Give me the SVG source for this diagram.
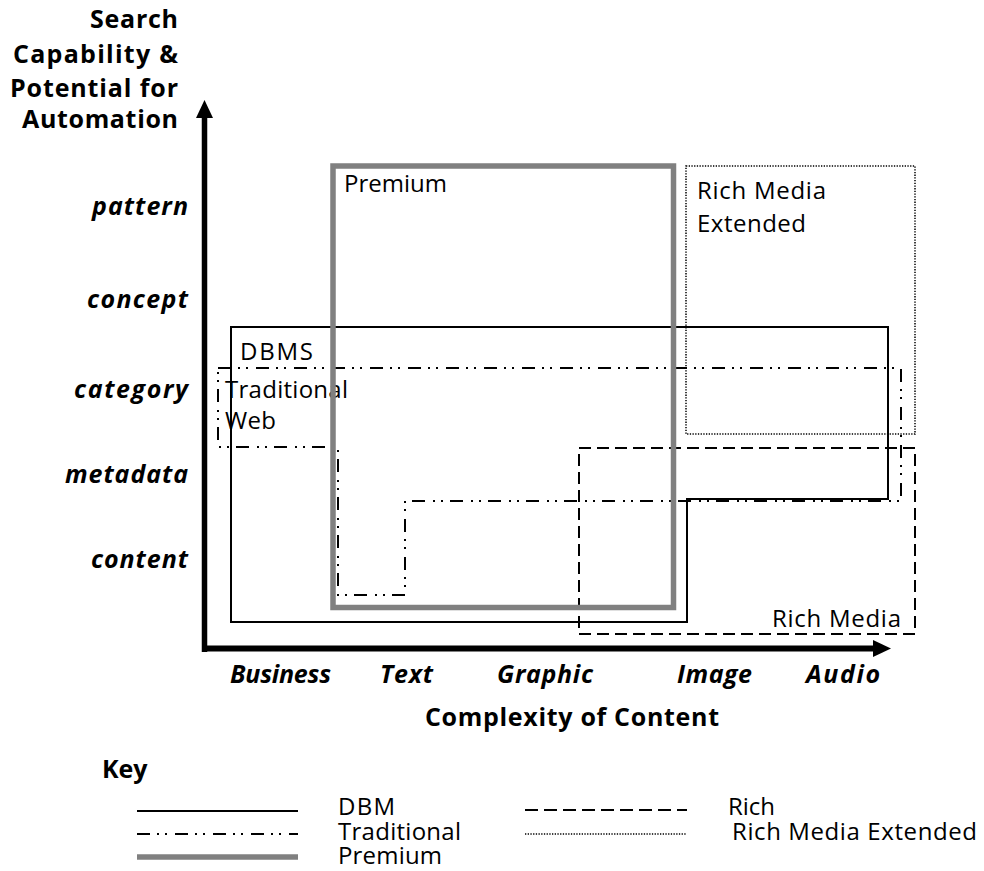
<svg xmlns="http://www.w3.org/2000/svg" width="984" height="871" viewBox="0 0 984 871">
<style>
text{font-family:"Open Sans","Noto Sans","DejaVu Sans",sans-serif;fill:#000;font-size:24px}
.b{font-weight:bold;font-size:25px}
.bi{font-weight:bold;font-style:italic;font-size:25px}
.e{text-anchor:end}
.solid{fill:none;stroke:#000;stroke-width:2}
.trad{fill:none;stroke:#000;stroke-width:2;stroke-dasharray:13 7 2 6 2 8}
.prem{fill:none;stroke:#808080;stroke-width:5.5}
.dash{fill:none;stroke:#000;stroke-width:2;stroke-dasharray:12 6}
.dot{fill:none;stroke:#000;stroke-width:1.5;stroke-dasharray:1.3 1.4}
</style>
<rect width="984" height="871" fill="#fff"/>
<g id="title">
<text class="b e" x="178" y="28" textLength="88" lengthAdjust="spacing">Search</text>
<text class="b e" x="178" y="63" textLength="165" lengthAdjust="spacing">Capability &amp;</text>
<text class="b e" x="178" y="97" textLength="168" lengthAdjust="spacing">Potential for</text>
<text class="b e" x="178" y="128" textLength="156" lengthAdjust="spacing">Automation</text>
</g>
<g id="y-labels">
<text class="bi e" x="188" y="215" textLength="96" lengthAdjust="spacing">pattern</text>
<text class="bi e" x="188" y="308" textLength="101" lengthAdjust="spacing">concept</text>
<text class="bi e" x="188" y="398" textLength="114" lengthAdjust="spacing">category</text>
<text class="bi e" x="188" y="483" textLength="123" lengthAdjust="spacing">metadata</text>
<text class="bi e" x="188" y="568" textLength="97" lengthAdjust="spacing">content</text>
</g>
<g id="x-labels">
<text class="bi" x="230" y="683" textLength="101" lengthAdjust="spacing">Business</text>
<text class="bi" x="380" y="683" textLength="53" lengthAdjust="spacing">Text</text>
<text class="bi" x="497" y="683" textLength="96" lengthAdjust="spacing">Graphic</text>
<text class="bi" x="677" y="683" textLength="75" lengthAdjust="spacing">Image</text>
<text class="bi" x="806" y="683" textLength="74" lengthAdjust="spacing">Audio</text>
<text class="b" x="425" y="726" textLength="294" lengthAdjust="spacing">Complexity of Content</text>
</g>
<g id="connectors">
<line x1="204.5" y1="652" x2="204.5" y2="116" stroke="#000" stroke-width="5.5"/>
<polygon points="196,118 204.5,100 213,118" fill="#000"/>
<line x1="202" y1="648.5" x2="875" y2="648.5" stroke="#000" stroke-width="6"/>
<polygon points="873,640 891,648.5 873,657" fill="#000"/>
</g>
<g id="rich-media-extended">
<rect class="dot" x="686" y="166" width="229" height="268"/>
<text x="697" y="199" textLength="129" lengthAdjust="spacing">Rich Media</text>
<text x="697" y="232" textLength="109" lengthAdjust="spacing">Extended</text>
</g>
<g id="dbms">
<path class="solid" d="M231,327 H888 V499 H687 V622 H231 Z"/>
<text x="240" y="360" textLength="73" lengthAdjust="spacing">DBMS</text>
</g>
<g id="traditional-web">
<path class="trad" d="M218,368 H901 V501 H405 V595 H338 V447 H218 Z"/>
<text x="225" y="398" textLength="123" lengthAdjust="spacing">Traditional</text>
<text x="225" y="429" textLength="51" lengthAdjust="spacing">Web</text>
</g>
<g id="rich-media">
<rect class="dash" x="579" y="448" width="336" height="186"/>
<text x="772" y="627" textLength="129" lengthAdjust="spacing">Rich Media</text>
</g>
<g id="premium">
<rect class="prem" x="333" y="166" width="340.5" height="441.5"/>
<text x="344" y="192" textLength="103" lengthAdjust="spacing">Premium</text>
</g>
<g id="legend">
<text class="b" x="102" y="778">Key</text>
<line class="solid" x1="137" y1="811" x2="298" y2="811"/>
<text x="338" y="815" textLength="57" lengthAdjust="spacing">DBM</text>
<line class="trad" x1="137" y1="834" x2="298" y2="834"/>
<text x="338" y="840" textLength="123" lengthAdjust="spacing">Traditional</text>
<line class="prem" x1="137" y1="857" x2="298" y2="857"/>
<text x="338" y="864" textLength="104" lengthAdjust="spacing">Premium</text>
<line class="dash" x1="525" y1="810" x2="687" y2="810" style="stroke-dasharray:13 6"/>
<text x="728" y="815" textLength="47" lengthAdjust="spacing">Rich</text>
<line class="dot" x1="525" y1="834" x2="687" y2="834"/>
<text x="732" y="840" textLength="245" lengthAdjust="spacing">Rich Media Extended</text>
</g>
</svg>
